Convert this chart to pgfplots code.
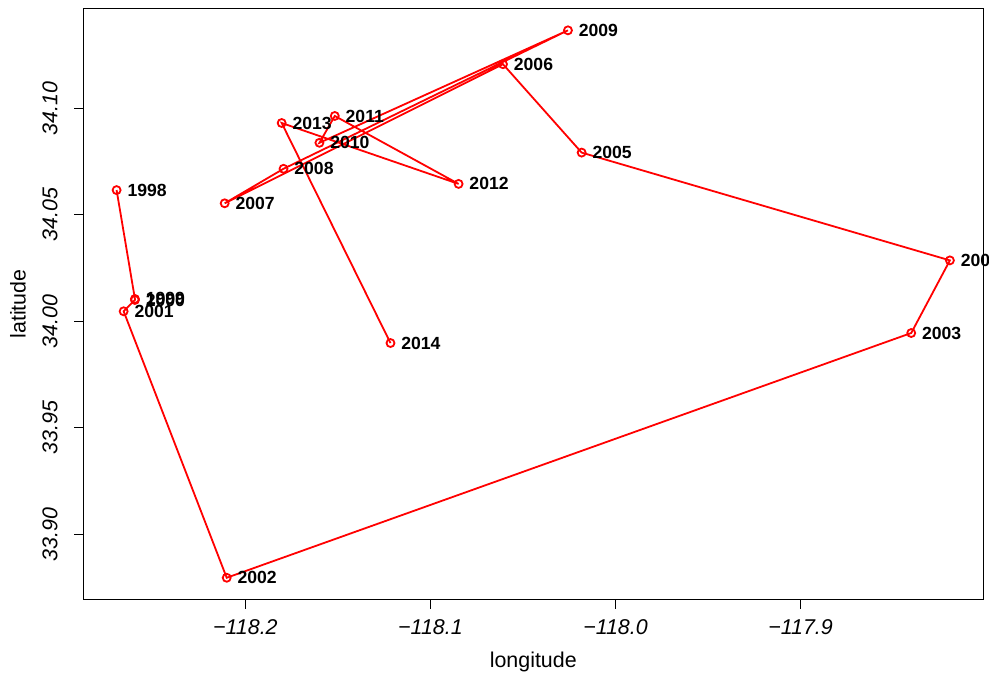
\documentclass[border=0pt]{standalone}
\usepackage{fontspec}
\setmainfont{Liberation Sans}
\usepackage{pgfplots}
\pgfplotsset{compat=1.18}
\usepackage{pgfplotstable}

\pgfplotstableread{
x y label
-118.2696 34.0616 1998
-118.2597 34.0105 1999
-118.2597 34.0100 2000
-118.2658 34.0047 2001
-118.2101 33.8796 2002
-117.8402 33.9945 2003
-117.8193 34.0286 2004
-118.0183 34.0792 2005
-118.0608 34.1207 2006
-118.2112 34.0554 2007
-118.1794 34.0716 2008
-118.0257 34.1366 2009
-118.1600 34.0838 2010
-118.1517 34.0964 2011
-118.0848 34.0645 2012
-118.1804 34.0931 2013
-118.1216 33.9898 2014
}\pts

\begin{document}
\begin{tikzpicture}
\useasboundingbox (-41.65pt,-37.65pt) rectangle (452.85pt,299.85pt);
\begin{axis}[
  at={(0pt,0pt)}, anchor=south west,
  scale only axis, width=449.95pt, height=295.65pt,
  xmin=-118.2876, xmax=-117.8013, ymin=33.8693, ymax=34.1469,
  axis line style={line width=0.5pt},
  tick align=outside, xtick pos=bottom, ytick pos=left,
  major tick length=4.5pt,
  tick style={black, line width=0.5pt},
  xtick={-118.2,-118.1,-118.0,-117.9},
  xticklabels={−118.2,−118.1,−118.0,−117.9},
  ytick={33.90,33.95,34.00,34.05,34.10},
  yticklabels={33.90,33.95,34.00,34.05,34.10},
  ticklabel style={font=\fontsize{10.7}{12}\selectfont\itshape},
  xticklabel style={anchor=center, yshift=-9.2pt},
  yticklabel style={xshift=-12.2pt, rotate=90, anchor=center},
  xlabel={longitude}, ylabel={latitude},
  label style={font=\fontsize{10.7}{12}\selectfont},
  xlabel style={at={(axis description cs:0.5,0)}, anchor=center, yshift=-31pt},
  ylabel style={at={(axis description cs:0,0.5)}, anchor=center, yshift=32.6pt},
]
\addplot[red, line width=0.9pt, mark=o, mark size=2pt, mark options={solid},
  nodes near coords, point meta=explicit symbolic,
  every node near coord/.append style={anchor=west, xshift=5pt, inner sep=0pt,
    font=\fontsize{8.8}{10}\selectfont\bfseries, text=black}]
  table[x=x, y=y, meta=label]{\pts};
\end{axis}
\end{tikzpicture}
\end{document}
